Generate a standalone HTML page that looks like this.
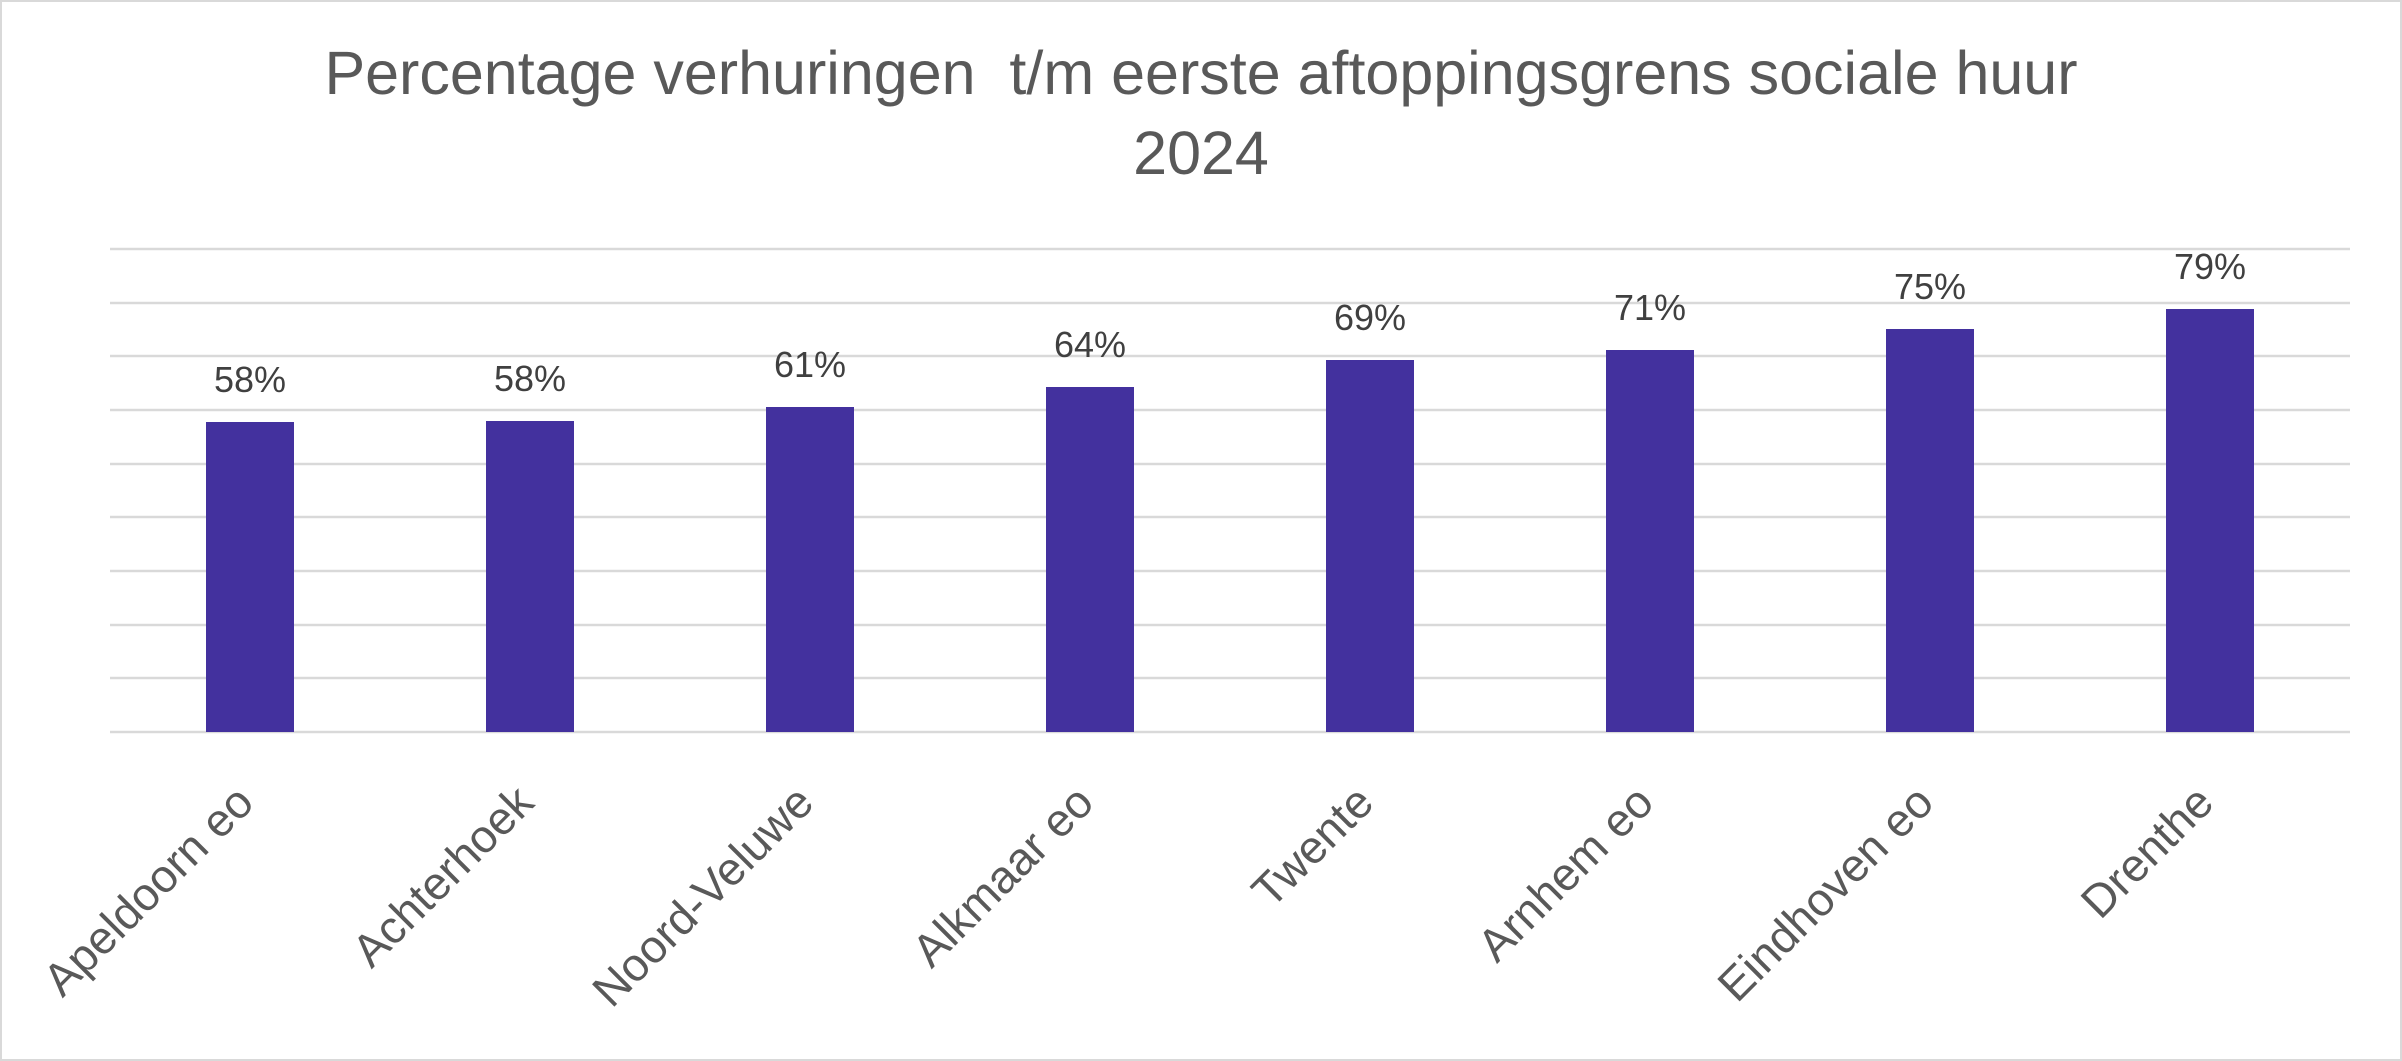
<!DOCTYPE html>
<html><head><meta charset="utf-8"><style>
html,body{margin:0;padding:0;background:#fff;}
svg{display:block;}
</style></head><body>
<svg width="2402" height="1061" xmlns="http://www.w3.org/2000/svg" font-family="Liberation Sans, sans-serif">
<rect x="1" y="1" width="2400" height="1059" fill="#fff" stroke="#d9d9d9" stroke-width="2"/>
<text x="1201" y="94" text-anchor="middle" font-size="61" fill="#595959" xml:space="preserve">Percentage verhuringen&#160; t/m eerste aftoppingsgrens sociale huur</text>
<text x="1201" y="174" text-anchor="middle" font-size="61" fill="#595959">2024</text>
<g stroke="#d9d9d9" stroke-width="2.5">
<line x1="110" x2="2350" y1="249" y2="249"/><line x1="110" x2="2350" y1="303" y2="303"/>
<line x1="110" x2="2350" y1="356" y2="356"/><line x1="110" x2="2350" y1="410" y2="410"/>
<line x1="110" x2="2350" y1="464" y2="464"/><line x1="110" x2="2350" y1="517" y2="517"/>
<line x1="110" x2="2350" y1="571" y2="571"/><line x1="110" x2="2350" y1="625" y2="625"/>
<line x1="110" x2="2350" y1="678" y2="678"/><line x1="110" x2="2350" y1="732" y2="732"/>
</g>
<g fill="#43319e">
<rect x="206" y="422" width="88" height="310"/>
<rect x="486" y="421" width="88" height="311"/>
<rect x="766" y="407" width="88" height="325"/>
<rect x="1046" y="387" width="88" height="345"/>
<rect x="1326" y="360" width="88" height="372"/>
<rect x="1606" y="350" width="88" height="382"/>
<rect x="1886" y="329" width="88" height="403"/>
<rect x="2166" y="309" width="88" height="423"/>
</g>
<g font-size="36" fill="#404040" text-anchor="middle">
<text x="250" y="392">58%</text><text x="530" y="391">58%</text>
<text x="810" y="377">61%</text><text x="1090" y="357">64%</text>
<text x="1370" y="330">69%</text><text x="1650" y="320">71%</text>
<text x="1930" y="299">75%</text><text x="2210" y="279">79%</text>
</g>
<g font-size="46" fill="#595959" text-anchor="end">
<text transform="translate(256,805) rotate(-45)">Apeldoorn eo</text>
<text transform="translate(536,805) rotate(-45)">Achterhoek</text>
<text transform="translate(816,805) rotate(-45)">Noord-Veluwe</text>
<text transform="translate(1096,805) rotate(-45)">Alkmaar eo</text>
<text transform="translate(1376,805) rotate(-45)">Twente</text>
<text transform="translate(1656,805) rotate(-45)">Arnhem eo</text>
<text transform="translate(1936,805) rotate(-45)">Eindhoven eo</text>
<text transform="translate(2216,805) rotate(-45)">Drenthe</text>
</g>
</svg>
</body></html>
